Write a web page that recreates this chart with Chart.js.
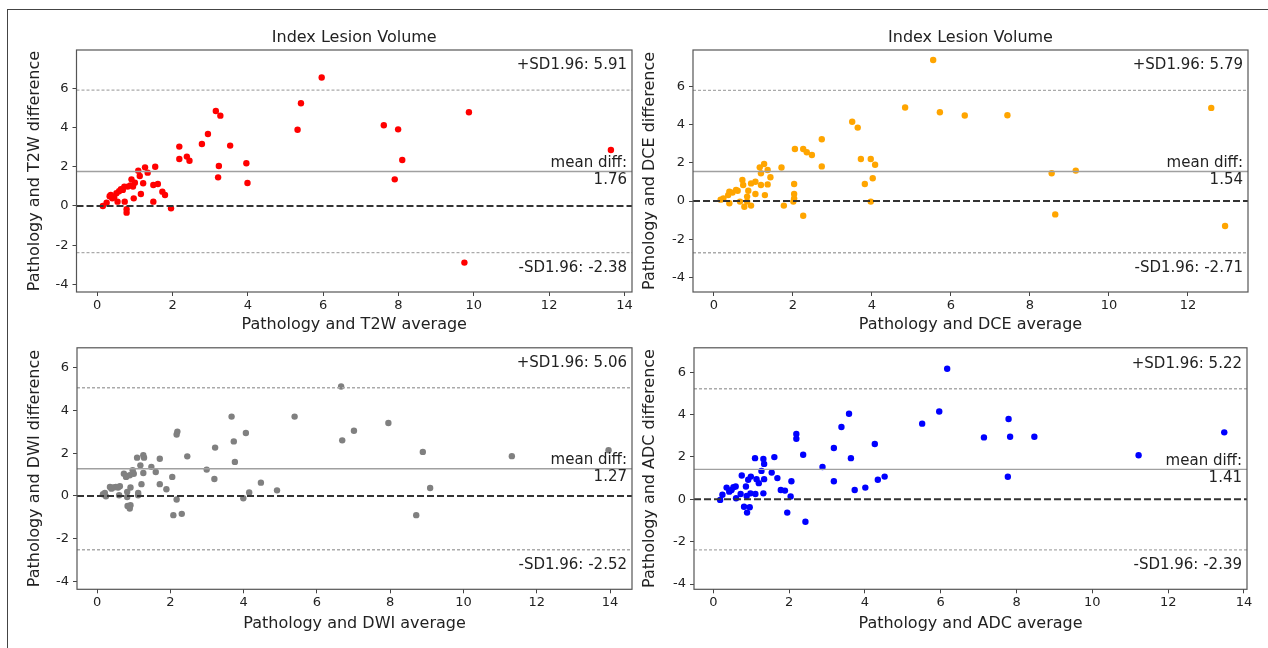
<!DOCTYPE html>
<html>
<head>
<meta charset="utf-8">
<script src="https://cdn.jsdelivr.net/npm/chart.js@4.4.1/dist/chart.umd.min.js"></script>
<style>
    body { margin: 0; background: #fff; width: 1268px; height: 648px; overflow: hidden; position: relative; }
    #frame { position: absolute; left: 7px; top: 9px; width: 1270px; height: 650px; border-top: 1.5px solid #444; border-left: 1.5px solid #444; }
    canvas { position: absolute; }
</style>
</head>
<body>
<div id="frame"></div>
<canvas id="c1" width="628" height="324" style="left:8px; top:12px;"></canvas>
<canvas id="c2" width="632" height="324" style="left:636px; top:12px;"></canvas>
<canvas id="c3" width="628" height="312" style="left:8px; top:336px;"></canvas>
<canvas id="c4" width="632" height="312" style="left:636px; top:336px;"></canvas>
<script>
const chartTitle = 'Index Lesion Volume';
const methods = ['T2W', 'DCE', 'DWI', 'ADC'];

// average (x) and difference (y) per method
const t2wAvg = [0.15, 0.25, 0.33, 0.36, 0.40, 0.45, 0.51, 0.54, 0.58, 0.63, 0.68, 0.72, 0.73, 0.78, 0.78, 0.81, 0.88, 0.91, 0.95, 0.97, 1.00, 1.09, 1.13, 1.16, 1.22, 1.27, 1.34, 1.49, 1.49, 1.54, 1.61, 1.73, 1.80, 1.96, 2.18, 2.18, 2.38, 2.45, 2.78, 2.94, 3.15, 3.27, 3.21, 3.23, 3.53, 3.96, 3.99, 5.32, 5.41, 5.96, 7.61, 7.99, 8.10, 7.90, 9.87, 9.75, 13.64];
const t2wDiff = [0.00, 0.17, 0.50, 0.56, 0.39, 0.45, 0.65, 0.22, 0.75, 0.85, 0.82, 0.99, 0.22, -0.17, -0.34, 0.99, 1.05, 1.36, 0.99, 0.39, 1.19, 1.80, 1.53, 0.61, 1.16, 1.97, 1.70, 1.07, 0.22, 2.00, 1.12, 0.73, 0.56, -0.12, 3.03, 2.40, 2.52, 2.31, 3.16, 3.67, 4.85, 4.61, 1.46, 2.04, 3.08, 2.18, 1.17, 3.89, 5.24, 6.56, 4.12, 3.91, 2.35, 1.36, 4.78, -2.89, 2.86];

const dceAvg = [0.17, 0.24, 0.36, 0.39, 0.39, 0.47, 0.56, 0.60, 0.66, 0.72, 0.74, 0.77, 0.84, 0.84, 0.87, 0.94, 0.94, 1.05, 1.05, 1.16, 1.19, 1.19, 1.27, 1.29, 1.36, 1.36, 1.43, 1.71, 1.77, 2.01, 2.03, 2.03, 2.05, 2.03, 2.26, 2.26, 2.35, 2.48, 2.73, 2.73, 3.50, 3.64, 3.72, 3.82, 3.97, 4.08, 4.02, 3.97, 4.84, 5.55, 5.72, 6.35, 7.43, 12.59, 8.55, 9.16, 8.64, 12.94];
const dceDiff = [0.07, 0.14, 0.31, 0.49, -0.12, 0.44, 0.58, 0.54, -0.03, 1.10, 0.84, -0.30, 0.23, -0.03, 0.54, -0.24, 0.92, 1.01, 0.37, 1.76, 1.45, 0.84, 1.94, 0.31, 1.62, 0.87, 1.24, 1.75, -0.24, -0.03, 0.37, 0.89, 2.72, 0.14, -0.77, 2.72, 2.55, 2.41, 3.23, 1.81, 4.15, 3.84, 2.20, 0.89, 2.20, 1.90, 1.19, -0.03, 4.89, 7.38, 4.64, 4.47, 4.49, 4.87, 1.45, 1.59, -0.70, -1.31];

const dwiAvg = [0.16, 0.21, 0.24, 0.35, 0.39, 0.44, 0.51, 0.57, 0.62, 0.60, 0.73, 0.79, 0.82, 0.82, 0.83, 0.89, 0.91, 0.91, 0.89, 0.97, 1.00, 1.09, 1.12, 1.12, 1.18, 1.21, 1.26, 1.26, 1.28, 1.48, 1.60, 1.71, 1.71, 1.89, 2.05, 2.08, 2.17, 2.17, 2.19, 2.31, 2.46, 2.99, 3.20, 3.22, 3.67, 3.73, 3.76, 3.99, 4.06, 4.15, 4.47, 4.91, 5.39, 6.66, 6.69, 7.01, 7.95, 8.89, 11.32, 13.96, 9.09, 8.71];
const dwiDiff = [0.08, 0.14, -0.02, 0.42, 0.34, 0.39, 0.42, 0.39, 0.45, 0.03, 1.04, 0.89, -0.05, 0.19, -0.47, -0.59, -0.44, 0.39, 0.97, 1.20, 1.04, 1.79, 0.14, 0.03, 1.43, 0.55, 1.07, 1.90, 1.79, 1.36, 1.12, 1.74, 0.55, 0.31, 0.89, -0.90, -0.17, 2.87, 3.01, -0.84, 1.85, 1.23, 0.79, 2.26, 3.71, 2.55, 1.59, -0.11, 2.94, 0.16, 0.62, 0.26, 3.71, 5.12, 2.60, 3.05, 3.41, 2.06, 1.86, 2.14, 0.37, -0.90];

const adcAvg = [0.18, 0.24, 0.35, 0.42, 0.48, 0.53, 0.59, 0.60, 0.72, 0.75, 0.81, 0.86, 0.88, 0.89, 0.92, 0.96, 0.98, 0.99, 1.10, 1.11, 1.14, 1.20, 1.27, 1.32, 1.32, 1.34, 1.34, 1.54, 1.61, 1.69, 1.78, 1.89, 1.95, 2.04, 2.06, 2.19, 2.19, 2.37, 2.43, 2.88, 3.18, 3.18, 3.38, 3.58, 3.63, 3.73, 4.01, 4.26, 4.34, 4.52, 5.51, 5.96, 6.17, 7.14, 7.79, 7.83, 8.47, 7.77, 11.22, 13.48];
const adcDiff = [-0.03, 0.21, 0.55, 0.36, 0.44, 0.57, 0.60, 0.05, 0.25, 1.12, -0.35, 0.60, 0.16, -0.63, 0.92, -0.38, 0.28, 1.07, 1.94, 0.25, 0.95, 0.76, 1.34, 1.90, 0.28, 1.67, 0.95, 1.26, 1.99, 1.00, 0.44, 0.41, -0.63, 0.13, 0.85, 3.08, 2.86, 2.10, -1.06, 1.52, 2.42, 0.85, 3.41, 4.04, 1.94, 0.44, 0.55, 2.61, 0.92, 1.07, 3.57, 4.14, 6.16, 2.92, 3.79, 2.95, 2.95, 1.06, 2.08, 3.16];

// limits of agreement
const meanDiff = [1.76, 1.54, 1.27, 1.41];
const upperSD = [5.91, 5.79, 5.06, 5.22];
const lowerSD = [-2.38, -2.71, -2.52, -2.39];

// axis limits
const xMin = [-0.55, -0.53, -0.55, -0.51];
const xMax = [14.2, 13.52, 14.6, 14.08];
const yMin = [-4.39, -4.76, -4.37, -4.25];
const yMax = [7.96, 7.9, 6.93, 7.15];

const pointColors = ['#ff0000', '#ffa500', '#808080', '#0000ff'];

Chart.defaults.font.family = "'DejaVu Sans', sans-serif";
Chart.defaults.color = '#222';

// frame of the plot area + limit texts
const blandText = {
    id: 'blandText',
    afterDatasetsDraw(chart, args, opts) {
        const { ctx, chartArea: a } = chart;
        const y = chart.scales.y;
        ctx.save();
        ctx.strokeStyle = '#555';
        ctx.lineWidth = 1.2;
        ctx.strokeRect(a.left, a.top, a.right - a.left, a.bottom - a.top);
        ctx.fillStyle = '#222';
        ctx.font = "15px 'DejaVu Sans'";
        ctx.textAlign = 'right';
        ctx.textBaseline = 'middle';
        const x = a.right - 5;
        ctx.fillText('+SD1.96: ' + opts.upper.toFixed(2), x, y.getPixelForValue(opts.upper) - 25);
        ctx.fillText('mean diff:', x, y.getPixelForValue(opts.mean) - 8.5);
        ctx.fillText(opts.mean.toFixed(2), x, y.getPixelForValue(opts.mean) + 8.5);
        ctx.fillText('-SD1.96: ' + opts.lower.toFixed(2), x, y.getPixelForValue(opts.lower) + 15.5);
        ctx.restore();
    }
};

function hline(i, value, color, width, dash) {
    return {
        type: 'line',
        data: [{ x: xMin[i], y: value }, { x: xMax[i], y: value }],
        borderColor: color,
        borderWidth: width,
        borderDash: dash,
        pointRadius: 0,
        order: 1,
    };
}

function makeChart(canvasId, i, avg, diff, opt) {
    const points = avg.map((v, k) => ({ x: v, y: diff[k] }));
    return new Chart(document.getElementById(canvasId), {
        type: 'scatter',
        data: {
            datasets: [
                {
                    data: points,
                    backgroundColor: pointColors[i],
                    borderWidth: 0,
                    pointRadius: 3.2,
                    order: 2,
                },
                hline(i, upperSD[i], '#aaaaaa', 1.4, [3, 2]),
                hline(i, meanDiff[i], '#a0a0a0', 1.4, []),
                hline(i, 0, '#333333', 2, [7, 3]),
                hline(i, lowerSD[i], '#aaaaaa', 1.4, [3, 2]),
            ],
        },
        plugins: [blandText],
        options: {
            responsive: false,
            animation: false,
            events: [],
            layout: {
                padding: { left: 0, right: opt.right, top: opt.top, bottom: opt.bottom },
            },
            plugins: {
                legend: { display: false },
                tooltip: { enabled: false },
                title: {
                    display: opt.showTitle,
                    fullSize: false,
                    text: chartTitle,
                    font: { size: 16, weight: 'normal' },
                    color: '#222',
                    padding: { top: 16.4, bottom: 2.4 },
                },
                blandText: { mean: meanDiff[i], upper: upperSD[i], lower: lowerSD[i] },
            },
            scales: {
                x: {
                    type: 'linear',
                    min: xMin[i],
                    max: xMax[i],
                    border: { display: false },
                    grid: { drawOnChartArea: false, drawTicks: true, tickLength: 4, color: '#444', tickColor: '#444' },
                    ticks: { stepSize: 2, includeBounds: false, autoSkip: false, maxRotation: 0, padding: 2, font: { size: 13 }, color: '#222' },
                    title: { display: true, text: `Pathology and ${methods[i]} average`, font: { size: 16 }, color: '#222', padding: { top: 0, bottom: opt.xTitlePad } },
                    afterFit: (scale) => { scale.height = 44; },
                },
                y: {
                    type: 'linear',
                    min: yMin[i],
                    max: yMax[i],
                    border: { display: false },
                    grid: { drawOnChartArea: false, drawTicks: true, tickLength: 4, color: '#444', tickColor: '#444' },
                    ticks: { stepSize: 2, includeBounds: false, autoSkip: false, padding: 4, font: { size: 13 }, color: '#222' },
                    title: { display: true, text: `Pathology and ${methods[i]} difference`, font: { size: 16 }, color: '#222', padding: { top: opt.yTitlePad, bottom: 0 } },
                    afterFit: (scale) => { scale.width = opt.yWidth; },
                },
            },
        },
    });
}

makeChart('c1', 0, t2wAvg, t2wDiff, { right: 4, top: 0, bottom: 0, showTitle: true, yWidth: 68.5, yTitlePad: 17.4, xTitlePad: 1.4 });
makeChart('c2', 1, dceAvg, dceDiff, { right: 20, top: 0, bottom: 0, showTitle: true, yWidth: 57, yTitlePad: 4.4, xTitlePad: 1.4 });
makeChart('c3', 2, dwiAvg, dwiDiff, { right: 4, top: 11.3, bottom: 14.7, showTitle: false, yWidth: 69, yTitlePad: 17.4, xTitlePad: 0 });
makeChart('c4', 3, adcAvg, adcDiff, { right: 21, top: 11.3, bottom: 14.7, showTitle: false, yWidth: 58, yTitlePad: 4.4, xTitlePad: 0 });
</script>
</body>
</html>
